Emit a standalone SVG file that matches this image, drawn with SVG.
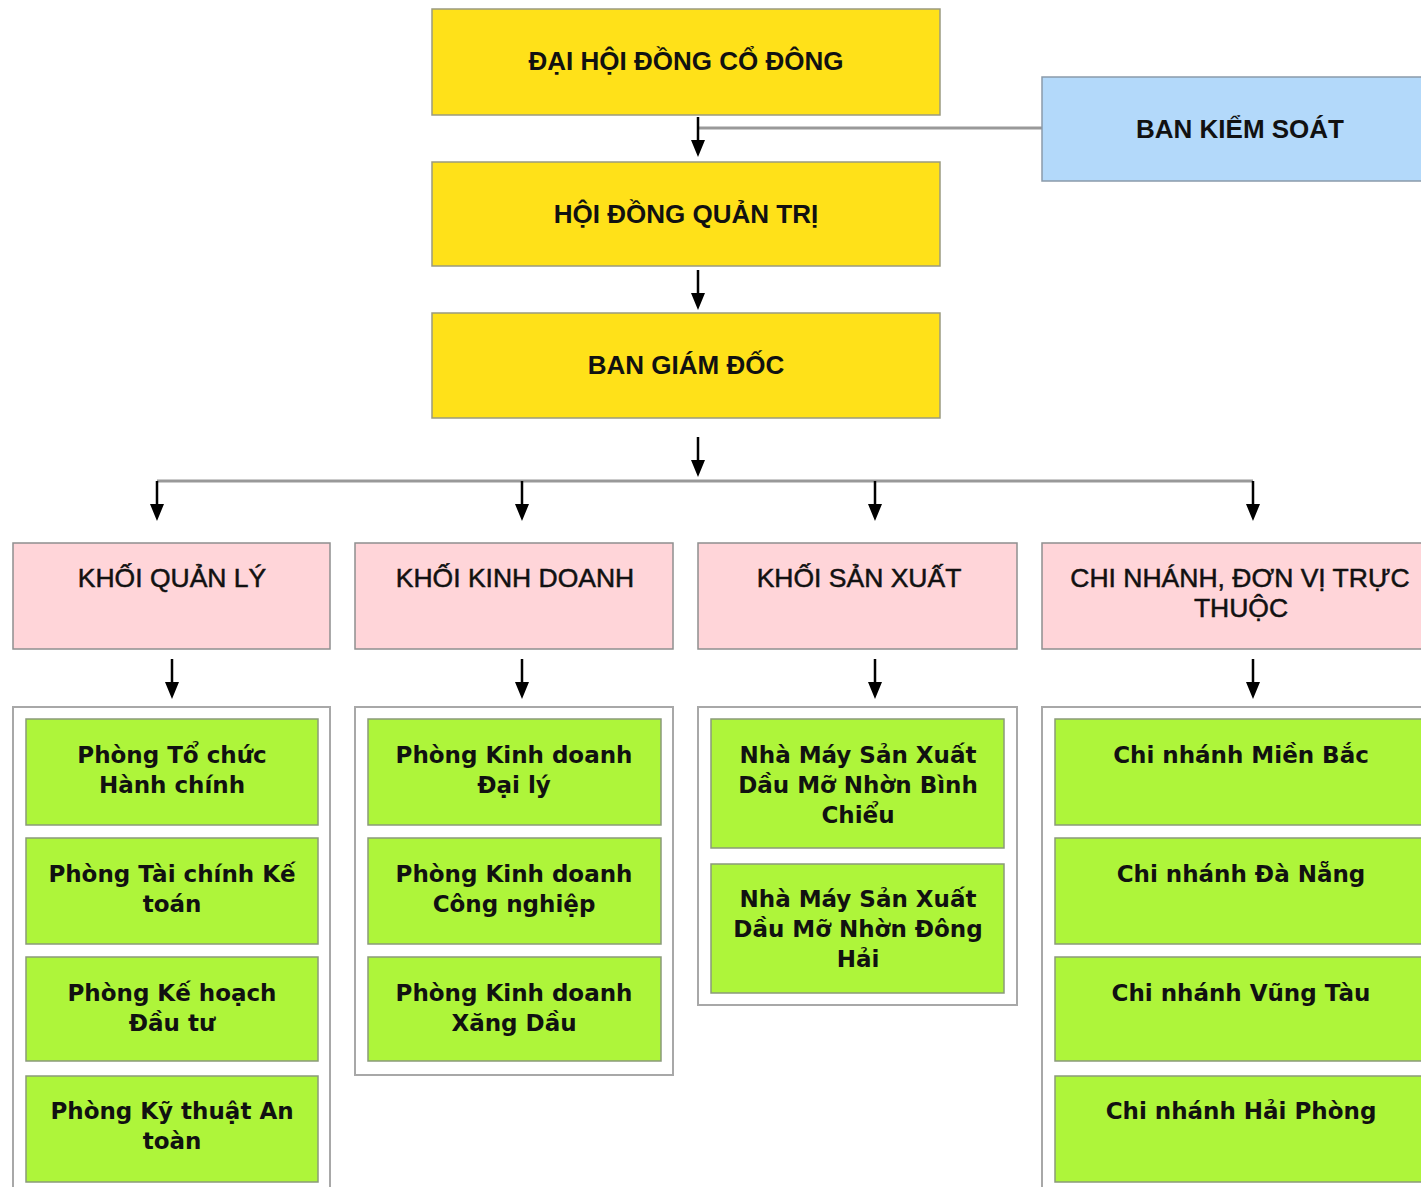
<svg xmlns="http://www.w3.org/2000/svg" width="1421" height="1187" viewBox="0 0 1421 1187">
<style>
.y{fill:#FFE119;stroke:#9a9a80;stroke-width:1.5}
.b{fill:#B3D9FA;stroke:#8a9aaa;stroke-width:1.5}
.p{fill:#FFD5D9;stroke:#8f8f8f;stroke-width:1.5}
.c{fill:#fff;stroke:#a8a8a8;stroke-width:2}
.g{fill:#AEF53A;stroke:#8a9a7a;stroke-width:1.5}
.th{font-family:"Liberation Sans",Arial,sans-serif;font-weight:bold;font-size:26px;fill:#111;text-anchor:middle}
.tp{font-family:"Liberation Sans",Arial,sans-serif;font-size:26.5px;fill:#111;stroke:#111;stroke-width:0.5;text-anchor:middle}
.tg{font-family:"DejaVu Sans",sans-serif;font-weight:bold;font-size:23px;fill:#111;text-anchor:middle}
.sh{stroke:#000;stroke-width:2.5;fill:none}
.gl{stroke:#999;stroke-width:3;fill:none}
</style>
<rect width="1421" height="1187" fill="#fff"/>
<g id="connectors">
<path class="gl" d="M698,128 H1042"/>
<path class="gl" d="M157,481 H1253"/>
<path class="sh" d="M698,117 V142 M698,270 V295 M698,437 V462"/>
<path d="M691,140 L705,140 L698,157 Z M691,293 L705,293 L698,310 Z M691,460 L705,460 L698,477 Z"/>
<path class="sh" d="M157,481 V506 M522,481 V506 M875,481 V506 M1253,481 V506"/>
<path d="M150,504 L164,504 L157,521 Z M515,504 L529,504 L522,521 Z M868,504 L882,504 L875,521 Z M1246,504 L1260,504 L1253,521 Z"/>
<path class="sh" d="M172,659 V684 M522,659 V684 M875,659 V684 M1253,659 V684"/>
<path d="M165,682 L179,682 L172,699 Z M515,682 L529,682 L522,699 Z M868,682 L882,682 L875,699 Z M1246,682 L1260,682 L1253,699 Z"/>
</g>
<g id="dhdcd"><rect class="y" x="432" y="9" width="508" height="106"/><text class="th" x="686" y="70">ĐẠI HỘI ĐỒNG CỔ ĐÔNG</text></g>
<g id="hdqt"><rect class="y" x="432" y="162" width="508" height="104"/><text class="th" x="686" y="223">HỘI ĐỒNG QUẢN TRỊ</text></g>
<g id="bgd"><rect class="y" x="432" y="313" width="508" height="105"/><text class="th" x="686" y="374">BAN GIÁM ĐỐC</text></g>
<g id="bks"><rect class="b" x="1042" y="77" width="390" height="104"/><text class="th" x="1240" y="138">BAN KIỂM SOÁT</text></g>
<g id="kql"><rect class="p" x="13" y="543" width="317" height="106"/><text class="tp" x="172" y="587">KHỐI QUẢN LÝ</text></g>
<g id="kkd"><rect class="p" x="355" y="543" width="318" height="106"/><text class="tp" x="515" y="587">KHỐI KINH DOANH</text></g>
<g id="ksx"><rect class="p" x="698" y="543" width="319" height="106"/><text class="tp" x="859" y="587">KHỐI SẢN XUẤT</text></g>
<g id="cn"><rect class="p" x="1042" y="543" width="390" height="106"/><text class="tp" x="1240" y="587">CHI NHÁNH, ĐƠN VỊ TRỰC</text><text class="tp" x="1241" y="617">THUỘC</text></g>
<g id="col1"><rect class="c" x="13" y="707" width="317" height="490"/></g>
<g id="col2"><rect class="c" x="355" y="707" width="318" height="368"/></g>
<g id="col3"><rect class="c" x="698" y="707" width="319" height="298"/></g>
<g id="col4"><rect class="c" x="1042" y="707" width="390" height="490"/></g>
<g id="p1"><rect class="g" x="26" y="719" width="292" height="106"/><text class="tg" x="172" y="763">Phòng Tổ chức</text><text class="tg" x="172" y="793">Hành chính</text></g>
<g id="p2"><rect class="g" x="26" y="838" width="292" height="106"/><text class="tg" x="172" y="882">Phòng Tài chính Kế</text><text class="tg" x="172" y="912">toán</text></g>
<g id="p3"><rect class="g" x="26" y="957" width="292" height="104"/><text class="tg" x="172" y="1001">Phòng Kế hoạch</text><text class="tg" x="172" y="1031">Đầu tư</text></g>
<g id="p4"><rect class="g" x="26" y="1076" width="292" height="106"/><text class="tg" x="172" y="1119">Phòng Kỹ thuật An</text><text class="tg" x="172" y="1149">toàn</text></g>
<g id="k1"><rect class="g" x="368" y="719" width="293" height="106"/><text class="tg" x="514" y="763">Phòng Kinh doanh</text><text class="tg" x="514" y="793">Đại lý</text></g>
<g id="k2"><rect class="g" x="368" y="838" width="293" height="106"/><text class="tg" x="514" y="882">Phòng Kinh doanh</text><text class="tg" x="514" y="912">Công nghiệp</text></g>
<g id="k3"><rect class="g" x="368" y="957" width="293" height="104"/><text class="tg" x="514" y="1001">Phòng Kinh doanh</text><text class="tg" x="514" y="1031">Xăng Dầu</text></g>
<g id="s1"><rect class="g" x="711" y="719" width="293" height="129"/><text class="tg" x="858" y="763">Nhà Máy  Sản Xuất</text><text class="tg" x="858" y="793">Dầu Mỡ Nhờn Bình</text><text class="tg" x="858" y="823">Chiểu</text></g>
<g id="s2"><rect class="g" x="711" y="864" width="293" height="129"/><text class="tg" x="858" y="907">Nhà Máy  Sản Xuất</text><text class="tg" x="858" y="937">Dầu Mỡ Nhờn Đông</text><text class="tg" x="858" y="967">Hải</text></g>
<g id="c1"><rect class="g" x="1055" y="719" width="376" height="106"/><text class="tg" x="1241" y="763">Chi nhánh Miền Bắc</text></g>
<g id="c2"><rect class="g" x="1055" y="838" width="376" height="106"/><text class="tg" x="1241" y="882">Chi nhánh Đà Nẵng</text></g>
<g id="c3"><rect class="g" x="1055" y="957" width="376" height="104"/><text class="tg" x="1241" y="1001">Chi nhánh Vũng Tàu</text></g>
<g id="c4"><rect class="g" x="1055" y="1076" width="376" height="106"/><text class="tg" x="1241" y="1119">Chi nhánh Hải Phòng</text></g>
</svg>
